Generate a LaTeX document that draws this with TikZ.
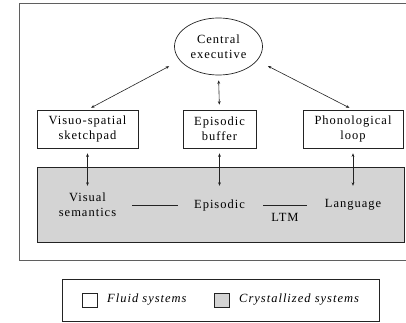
\documentclass[tikz,border=0pt]{standalone}
\usepackage{fontspec}
\setmainfont{Liberation Serif}[LetterSpace=8]
\usetikzlibrary{arrows.meta,shapes.geometric}
\definecolor{ltmgray}{RGB}{212,212,212}
\definecolor{framegray}{RGB}{95,95,95}
\definecolor{ink}{RGB}{35,35,35}
\begin{document}
\begin{tikzpicture}[x=1pt,y=-1pt,
  font=\fontsize{12.5}{15}\selectfont,
  box/.style={draw=ink,line width=0.7pt,fill=white,align=center,minimum height=38pt,inner sep=0pt},
  arr/.style={draw=ink,line width=0.6pt,{Stealth[length=3.5pt,width=2.8pt]}-{Stealth[length=3.5pt,width=2.8pt]}},
  ltmtext/.style={align=center,inner sep=0pt,minimum height=30pt},
  plain/.style={draw=ink,line width=0.6pt},
  key/.style={draw=ink,line width=0.6pt,minimum width=15pt,minimum height=14pt,inner sep=0pt},
  keytext/.style={anchor=west,inner sep=0pt,font=\fontsize{12.5}{15}\selectfont\itshape}]
\useasboundingbox (0,0) rectangle (406,323);
\begin{scope}
\clip (0,0) rectangle (406,323);
\draw[framegray,line width=0.8pt] (19,3) rectangle (420,260);
\end{scope}
% LTM region
\node[draw=ink,fill=ltmgray,line width=0.7pt,minimum width=367pt,minimum height=75pt,inner sep=0pt,anchor=north west] (ltm) at (37,167) {};
% top components
\node[draw=ink,ellipse,line width=0.7pt,minimum width=88pt,minimum height=57pt,inner sep=0pt,align=center] (ce) at (218.5,46.5) {Central\\executive};
\node[box,minimum width=101pt] (vs) at (87.5,129) {Visuo-spatial\\sketchpad};
\node[box,minimum width=73pt] (eb) at (219.5,129) {Episodic\\buffer};
\node[box,minimum width=100pt] (ph) at (353,129) {Phonological\\loop};
% LTM texts
\node[ltmtext] (vsem) at (87.5,205) {Visual\\semantics};
\node[ltmtext] (epi) at (219.5,205) {Episodic};
\node[ltmtext] (lang) at (353,205) {Language};
\draw[plain,shorten <=16pt,shorten >=16pt] (vsem) -- (epi);
\draw[plain,shorten <=18pt,shorten >=18pt] (epi) -- node[below=8pt,inner sep=0pt]{LTM} (lang);
% arrows
\draw[arr,shorten <=12pt,shorten >=4pt] (ce.200) -- (vs.north);
\draw[arr,shorten <=12pt,shorten >=4pt] (ce.340) -- (ph.north);
\draw[arr,shorten <=5pt,shorten >=5pt] (ce.south) -- (eb.north);
\draw[arr,shorten <=5pt,shorten >=4pt] (vs.south) -- (vsem.north);
\draw[arr,shorten <=5pt,shorten >=4pt] (eb.south) -- (epi.north);
\draw[arr,shorten <=5pt,shorten >=4pt] (ph.south) -- (lang.north);
% legend
\node[draw=ink,line width=0.7pt,minimum width=317pt,minimum height=42pt,inner sep=0pt,anchor=north west] (leg) at (62,279) {};
\node[key] (k1) at (89.5,300) {};
\node[keytext] (l1) at (107,300) {Fluid systems};
\node[key,fill=ltmgray] (k2) at (221.5,300) {};
\node[keytext] (l2) at (239,300) {Crystallized systems};
\end{tikzpicture}
\end{document}
